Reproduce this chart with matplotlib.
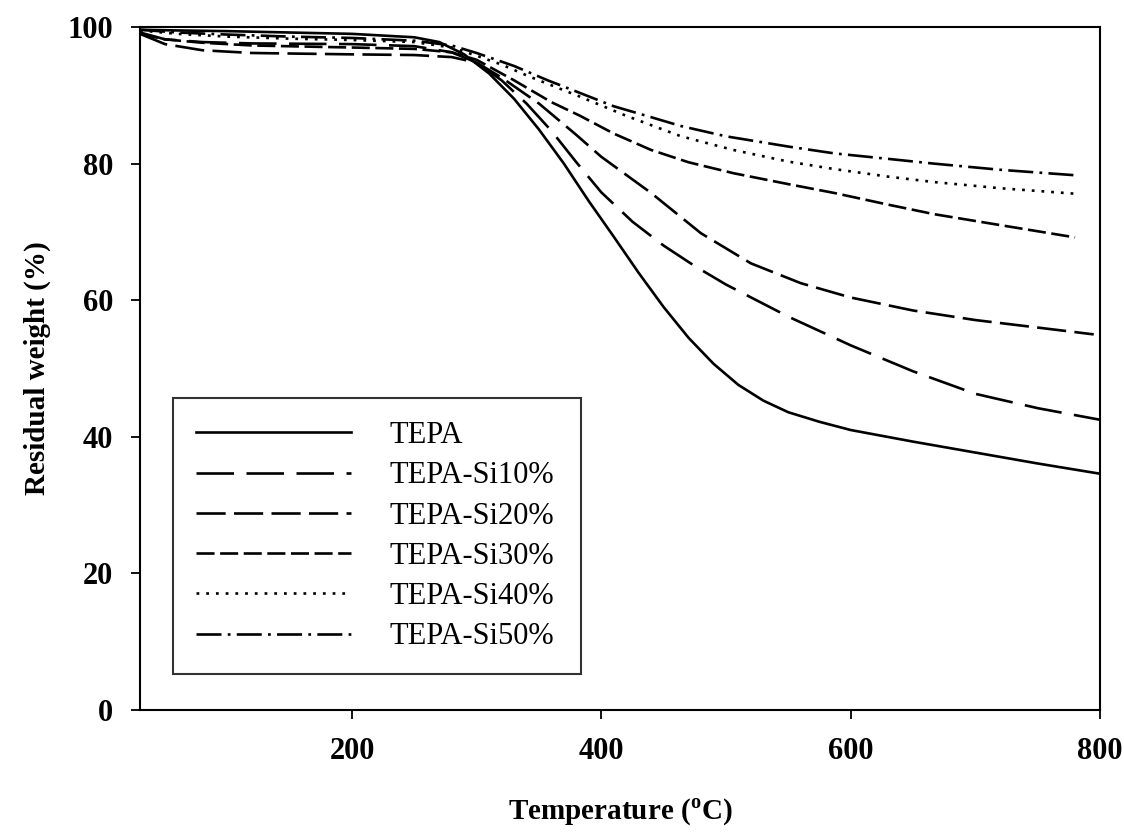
import matplotlib
matplotlib.use('Agg')
import matplotlib.pyplot as plt

plt.rcParams['font.family'] = ['Liberation Serif', 'DejaVu Serif']
plt.rcParams['lines.scale_dashes'] = False
plt.rcParams['mathtext.fontset'] = 'custom'
plt.rcParams['mathtext.rm'] = 'Liberation Serif'
plt.rcParams['mathtext.bf'] = 'Liberation Serif:bold'

# TGA curves (temperature in C, residual weight in %)
t_tepa = [30, 60, 100, 150, 200, 250, 270, 290, 310, 330, 350, 370, 390, 410, 430, 450,
          470, 490, 510, 530, 550, 575, 600, 650, 700, 750, 800]
w_tepa = [99.6, 99.5, 99.4, 99.2, 99.0, 98.5, 97.8, 96.0, 93.2, 89.5, 85.0, 80.0, 74.5, 69.3,
          64.0, 59.0, 54.5, 50.7, 47.6, 45.3, 43.6, 42.2, 41.0, 39.3, 37.7, 36.1, 34.6]

t_si10 = [30, 50, 80, 120, 200, 250, 280, 300, 320, 340, 360, 380, 400, 425, 450, 475, 500,
          550, 600, 650, 700, 750, 800]
w_si10 = [99.2, 98.2, 97.8, 97.6, 97.5, 97.2, 96.3, 94.8, 92.2, 88.8, 84.8, 80.2, 75.8, 71.5,
          68.0, 65.0, 62.3, 57.6, 53.4, 49.6, 46.3, 44.2, 42.5]

t_si20 = [30, 50, 80, 120, 200, 250, 280, 300, 320, 350, 380, 400, 440, 480, 520, 560, 600,
          650, 700, 750, 795]
w_si20 = [99.0, 97.5, 96.6, 96.2, 96.0, 95.9, 95.6, 94.8, 92.6, 88.8, 84.2, 81.0, 75.7, 69.8,
          65.4, 62.5, 60.4, 58.5, 57.1, 56.0, 55.0]

t_si30 = [30, 50, 80, 120, 200, 250, 280, 300, 330, 360, 383, 410, 440, 470, 506, 550, 587,
          630, 667, 720, 780]
w_si30 = [99.0, 98.2, 97.7, 97.3, 97.0, 96.8, 96.3, 95.2, 92.2, 89.0, 87.0, 84.4, 82.0, 80.2,
          78.6, 77.0, 75.7, 74.0, 72.6, 71.0, 69.2]

t_si40 = [30, 60, 100, 150, 200, 250, 280, 300, 320, 343, 383, 420, 464, 506, 550, 587, 630,
          667, 720, 780]
w_si40 = [99.5, 99.0, 98.6, 98.3, 98.1, 97.8, 97.0, 95.8, 94.5, 92.7, 89.8, 87.0, 84.0, 82.0,
          80.3, 79.2, 78.1, 77.3, 76.4, 75.6]

t_si50 = [30, 60, 100, 150, 200, 250, 280, 300, 330, 357, 385, 410, 440, 464, 500, 550, 587,
          630, 667, 720, 780]
w_si50 = [99.6, 99.2, 98.9, 98.6, 98.4, 98.0, 97.3, 96.2, 94.3, 92.2, 90.2, 88.4, 86.8, 85.5,
          84.0, 82.5, 81.5, 80.7, 80.0, 79.1, 78.3]

labels = ['TEPA', 'TEPA-Si10%', 'TEPA-Si20%', 'TEPA-Si30%', 'TEPA-Si40%', 'TEPA-Si50%']
xticks = [200, 400, 600, 800]
yticks = [0, 20, 40, 60, 80, 100]

styles = ['-', (0, (27, 9)), (0, (21, 6)), (0, (13, 4)), (0, (2, 5)), (0, (18, 4.5, 2, 4.5))]
series = [(t_tepa, w_tepa), (t_si10, w_si10), (t_si20, w_si20),
          (t_si30, w_si30), (t_si40, w_si40), (t_si50, w_si50)]

fig = plt.figure(figsize=(11.24, 8.32), dpi=100)
ax = fig.add_axes([0.1246, 0.1466, 0.854, 0.8209])

for (t, w), ls, lab in zip(series, styles, labels):
    ax.plot(t, w, color='black', linestyle=ls, linewidth=1.9, label=lab)

ax.set_xlim(30, 800)
ax.set_ylim(0, 100)
ax.set_xticks(xticks)
ax.set_yticks(yticks)
for s in ax.spines.values():
    s.set_linewidth(1.5)
ax.tick_params(direction='out', length=6.5, width=1.3, labelsize=22)
ax.tick_params(axis='x', pad=13)
ax.tick_params(axis='y', pad=13)
for lbl in ax.get_xticklabels() + ax.get_yticklabels():
    lbl.set_fontweight('bold')

ax.set_xlabel(r'Temperature ($^{\mathbf{o}}$C)', fontsize=21, fontweight='bold', labelpad=22)
ax.set_ylabel('Residual weight (%)', fontsize=21, fontweight='bold', labelpad=12)

leg = ax.legend(loc='upper left', bbox_to_anchor=(0.034, 0.4568, 0.425, 0.0), mode='expand',
                fontsize=22, handlelength=5.1, handletextpad=1.25, labelspacing=0.37,
                fancybox=False, edgecolor='black', borderpad=0.75, borderaxespad=0)
leg.get_frame().set_linewidth(1.5)

fig.savefig('out.png', dpi=100)
